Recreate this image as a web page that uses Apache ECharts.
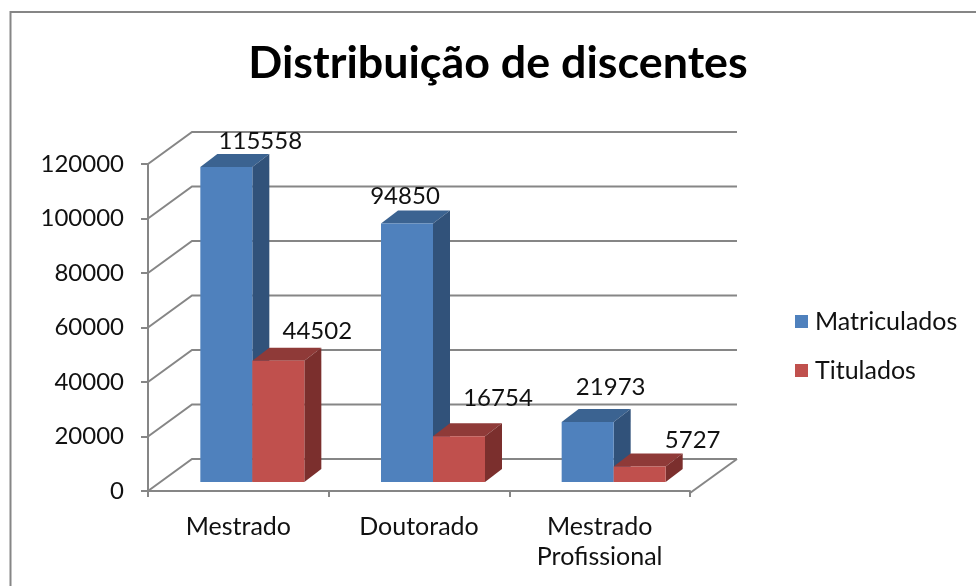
<!DOCTYPE html>
<html>
<head>
<meta charset="utf-8">
<style>html,body{margin:0;padding:0;background:#fff}#c{width:976px;height:586px}</style>
<script src="https://cdn.jsdelivr.net/npm/echarts@6/dist/echarts.min.js"></script>
</head>
<body>
<div id="c"></div>
<script>
const titleText = 'Distribuição de discentes';
const categories = ['Mestrado', 'Doutorado', 'Mestrado\nProfissional'];
const matriculados = [115558, 94850, 21973];
const titulados = [44502, 16754, 5727];
const yTicks = [0, 20000, 40000, 60000, 80000, 100000, 120000];

// Style constants (not data)
const FONT = 'Lato';
const GRAY = '#868686';
const BAR_W = 52, BAR_SHIFT_X = 14, BAR_SHIFT_Y = -9, SIDE_X = 17, SIDE_Y = -13;
const WALL_X_L = 44, WALL_X_R = 47, WALL_Y = -32;
const blueTheme = { front: '#4F81BD', side: '#31527A', top: '#3B6391' };
const redTheme = { front: '#C0504D', side: '#7B2F2D', top: '#8F3A38' };
const blueLabelNudge = [[34, -26], [-2, -27], [23, -35]];
const redLabelNudge = [[39, -29], [39, -38], [53, -26]];

function wallItem(params, api) {
  const v = api.value(1);
  const p = api.coord([0, v]);
  const band = api.size([1, 0])[0];
  const left = p[0] - band / 2;
  const right = left + band * categories.length;
  const ls = { stroke: GRAY, lineWidth: 2, fill: null };
  const children = [{
    type: 'polyline',
    shape: { points: [[left, p[1]], [left + WALL_X_L, p[1] + WALL_Y], [right + WALL_X_R, p[1] + WALL_Y]] },
    style: ls
  }];
  if (v === 0) {
    children.push({
      type: 'line',
      shape: { x1: right, y1: p[1] + 2, x2: right + WALL_X_R, y2: p[1] + WALL_Y },
      style: ls
    });
  }
  return { type: 'group', children };
}

function barRenderer(sign, theme, nudges) {
  return function (params, api) {
    const i = api.value(0), v = api.value(1);
    const c = api.coord([i, v]);
    const z = api.coord([i, 0]);
    const x0 = c[0] + BAR_SHIFT_X + (sign < 0 ? -BAR_W : 0);
    const x1 = x0 + BAR_W;
    const yT = c[1] + BAR_SHIFT_Y, yB = z[1] + BAR_SHIFT_Y;
    const n = nudges[params.dataIndex];
    return {
      type: 'group',
      children: [
        { type: 'polygon', shape: { points: [[x0, yT], [x1, yT], [x1 + SIDE_X, yT + SIDE_Y], [x0 + SIDE_X, yT + SIDE_Y]] }, style: { fill: theme.top } },
        { type: 'polygon', shape: { points: [[x1, yT], [x1 + SIDE_X, yT + SIDE_Y], [x1 + SIDE_X, yB + SIDE_Y], [x1, yB]] }, style: { fill: theme.side } },
        { type: 'rect', shape: { x: x0, y: yT, width: BAR_W, height: yB - yT }, style: { fill: theme.front } },
        { type: 'text', z2: 50, style: { text: String(v), x: (x0 + x1) / 2 + n[0], y: yT + n[1], align: 'center', verticalAlign: 'middle', font: '24px ' + FONT, fill: '#111' } }
      ]
    };
  };
}

const chart = echarts.init(document.getElementById('c'));
chart.setOption({
  animation: false,
  backgroundColor: '#fff',
  title: {
    text: titleText, left: 493, top: 36, textAlign: 'center',
    textStyle: { fontFamily: FONT, fontWeight: 'bold', fontSize: 44.8, color: '#000' }
  },
  graphic: [{
    type: 'rect', silent: true, z: -1,
    shape: { x: 10.5, y: 12, width: 1000, height: 1000 },
    style: { fill: null, stroke: GRAY, lineWidth: 2 }
  }],
  legend: {
    data: ['Matriculados', 'Titulados'],
    orient: 'vertical', left: 790, top: 304,
    icon: 'rect', itemWidth: 13, itemHeight: 13, itemGap: 24,
    textStyle: { fontFamily: FONT, fontSize: 25, color: '#111', padding: [0, 0, 0, 2] }
  },
  grid: { left: 148, right: 286, top: 164, bottom: 95 },
  xAxis: {
    type: 'category', data: categories, offset: 2,
    axisLine: { lineStyle: { color: GRAY, width: 2 } },
    axisTick: { show: true, length: 6, lineStyle: { color: GRAY, width: 2 } },
    axisLabel: { margin: 19, fontFamily: FONT, fontSize: 25, lineHeight: 30, color: '#111', interval: 0 },
    splitLine: { show: false }
  },
  yAxis: {
    type: 'value', min: 0, max: 120000, interval: 20000,
    axisLine: { show: true, lineStyle: { color: GRAY, width: 2 } },
    axisTick: { show: true, length: 7, lineStyle: { color: GRAY, width: 2 } },
    axisLabel: { margin: 24, fontFamily: FONT, fontSize: 24, color: '#111', padding: [3, 0, 0, 0], formatter: v => String(v) },
    splitLine: { show: false }
  },
  series: [
    { type: 'custom', name: 'walls', silent: true, z: 1, renderItem: wallItem,
      encode: { x: 0, y: 1 }, data: yTicks.map(t => [0, t]) },
    { type: 'custom', name: 'Matriculados', z: 2, itemStyle: { color: blueTheme.front },
      renderItem: barRenderer(-1, blueTheme, blueLabelNudge),
      encode: { x: 0, y: 1 }, data: matriculados.map((v, i) => [i, v]) },
    { type: 'custom', name: 'Titulados', z: 3, itemStyle: { color: redTheme.front },
      renderItem: barRenderer(1, redTheme, redLabelNudge),
      encode: { x: 0, y: 1 }, data: titulados.map((v, i) => [i, v]) }
  ]
});
</script>
</body>
</html>
